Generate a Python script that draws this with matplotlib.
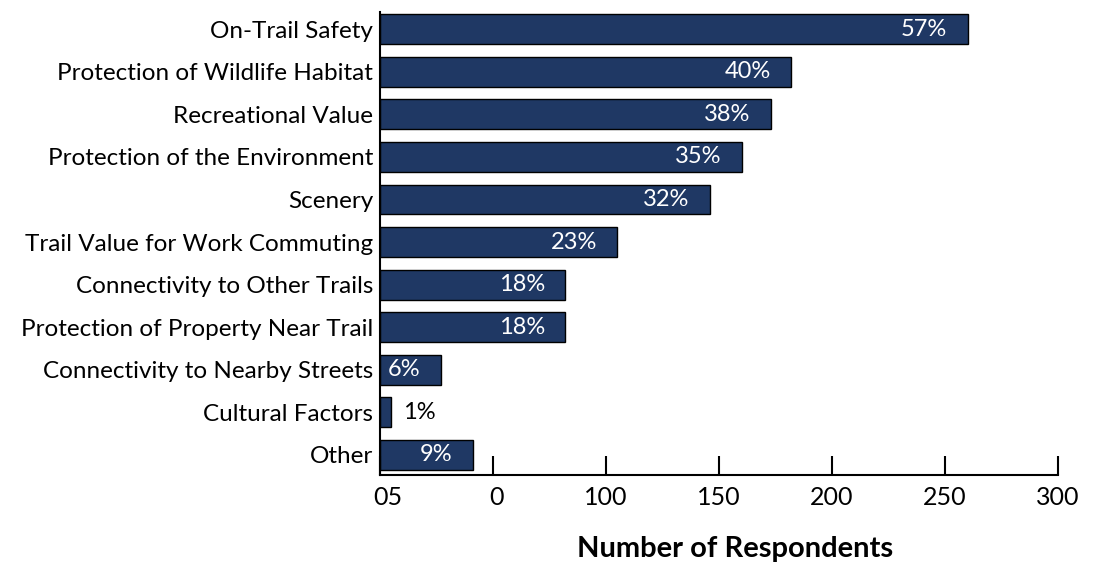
import matplotlib
matplotlib.use('Agg')
import matplotlib.pyplot as plt
import matplotlib.transforms as mtransforms

plt.rcParams['font.family'] = ['Lato', 'DejaVu Sans']

categories = ['On-Trail Safety', 'Protection of Wildlife Habitat', 'Recreational Value',
              'Protection of the Environment', 'Scenery', 'Trail Value for Work Commuting',
              'Connectivity to Other Trails', 'Protection of Property Near Trail',
              'Connectivity to Nearby Streets', 'Cultural Factors', 'Other']
counts = [260, 182, 173, 160, 146, 105, 82, 82, 27, 5, 41]
pct_labels = ['57%', '40%', '38%', '35%', '32%', '23%', '18%', '18%', '6%', '1%', '9%']
xticks = [0, 50, 100, 150, 200, 250, 300]
xtick_labels = ['05', '0', '100', '150', '200', '250', '300']

fig = plt.figure(figsize=(11.11, 5.66), dpi=100)
ax = fig.add_axes([380 / 1111, 1 - 475 / 566, (1058 - 380) / 1111, (475 - 12) / 566])

ypos = list(range(len(categories)))
ax.barh(ypos, counts, height=0.7, color='#1f3864', edgecolor='black', linewidth=1)

for y, v, lab in zip(ypos, counts, pct_labels):
    if v < 15:
        ax.text(v + 5, y, lab, ha='left', va='center', color='black', fontsize=17)
    else:
        ax.text(v - 9, y, lab, ha='right', va='center', color='white', fontsize=17)

ax.set_xlim(0, 300)
ax.set_ylim(len(categories) - 1 + 0.47, -0.4)
ax.set_yticks(ypos)
ax.set_yticklabels(categories, fontsize=17.5)
ax.tick_params(axis='y', length=0, pad=5)
ax.set_xticks(xticks)
ax.set_xticklabels(xtick_labels, fontsize=18)
ax.tick_params(axis='x', direction='in', length=14, width=1.5, pad=8)

# first tick labels sit a bit to the right in the original
lbls = ax.get_xticklabels()
lbls[0].set_transform(lbls[0].get_transform() + mtransforms.ScaledTranslation(8 / 100, 0, fig.dpi_scale_trans))
lbls[1].set_transform(lbls[1].get_transform() + mtransforms.ScaledTranslation(4 / 100, 0, fig.dpi_scale_trans))

for s in ['top', 'right']:
    ax.spines[s].set_visible(False)
ax.spines['left'].set_linewidth(1.5)
ax.spines['bottom'].set_linewidth(1.5)

fig.text(735 / 1111, 1 - 549 / 566, 'Number of Respondents', ha='center', va='center',
         fontsize=21, fontweight='bold')

fig.savefig('out.png', dpi=100)
